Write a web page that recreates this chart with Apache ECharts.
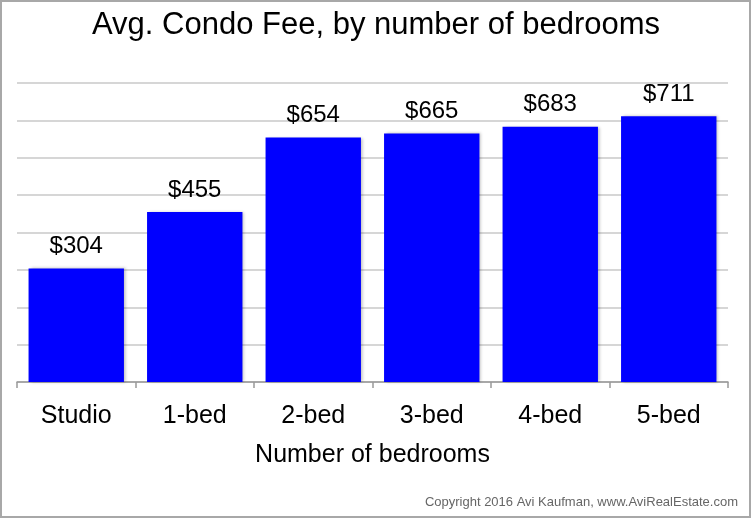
<!DOCTYPE html>
<html><head><meta charset="utf-8">
<script src="https://cdn.jsdelivr.net/npm/echarts@6/dist/echarts.min.js"></script>
<style>html,body{margin:0;padding:0;background:#fff}#c{width:752px;height:519px}</style>
</head><body><div id="c"></div>
<script>
const categories = ["Studio", "1-bed", "2-bed", "3-bed", "4-bed", "5-bed"];
const fees = [304, 455, 654, 665, 683, 711];
const titleText = "Avg. Condo Fee, by number of bedrooms";
const xAxisName = "Number of bedrooms";
const copyright = "Copyright 2016 Avi Kaufman, www.AviRealEstate.com";

const chart = echarts.init(document.getElementById('c'));
const font = "'Liberation Sans', Arial, Helvetica, sans-serif";
chart.setOption({
  animation: false,
  title: {
    text: titleText, left: 'center', top: 5,
    textStyle: { fontFamily: font, fontSize: 31, fontWeight: 'normal', color: '#000' }
  },
  graphic: [
    { type: 'rect', shape: { x: 1, y: 1, width: 749, height: 516 },
      style: { fill: 'none', stroke: '#a8a8a8', lineWidth: 2 }, z: 100 },
    { type: 'text', right: 14, top: 496,
      style: { text: copyright, fontFamily: font, fontSize: 13, fill: '#666' } }
  ],
  grid: { left: 17, right: 24, top: 83, bottom: 137 },
  xAxis: {
    type: 'category', data: categories,
    name: xAxisName, nameLocation: 'middle', nameGap: 61,
    nameTextStyle: { fontFamily: font, fontSize: 25, color: '#000' },
    axisLine: { lineStyle: { color: '#999', width: 1.5 } },
    axisTick: { show: true, length: 6, lineStyle: { color: '#999', width: 1.5 } },
    axisLabel: { fontFamily: font, fontSize: 25, color: '#000', margin: 22 }
  },
  yAxis: {
    type: 'value', min: 0, max: 800, interval: 100,
    axisLabel: { show: false }, axisLine: { show: false }, axisTick: { show: false },
    splitLine: { lineStyle: { color: '#c8c8c8', width: 1.5 } }
  },
  series: [{
    type: 'bar', data: fees, barWidth: '80.5%',
    itemStyle: { color: '#0000ff', shadowColor: 'rgba(0,0,0,0.25)', shadowBlur: 3, shadowOffsetX: 2, shadowOffsetY: 0 },
    label: { show: true, position: 'top', distance: 10, formatter: p => '$' + p.value,
      fontFamily: font, fontSize: 24, color: '#000' }
  }]
});
</script></body></html>
